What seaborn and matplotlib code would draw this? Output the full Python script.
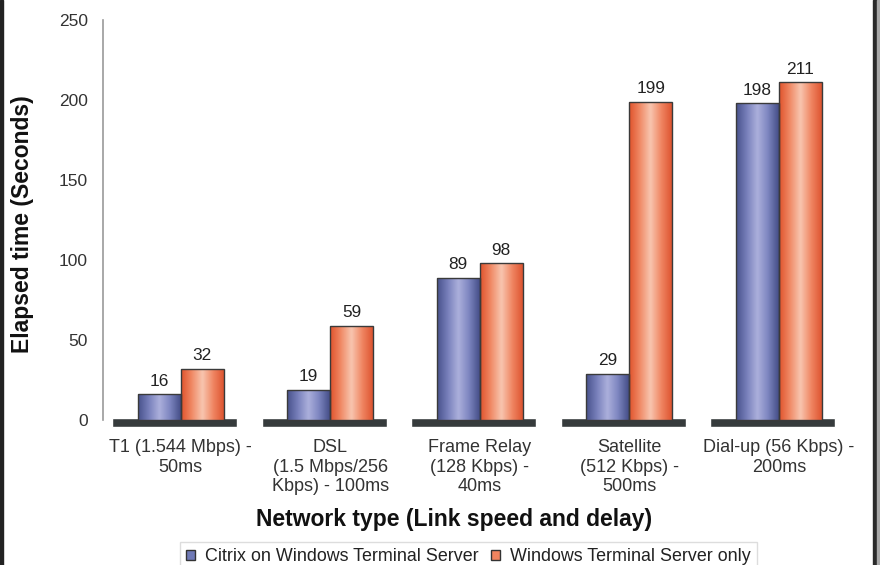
import numpy as np
import pandas as pd
import matplotlib
matplotlib.use("Agg")
import matplotlib.pyplot as plt
import seaborn as sns
from matplotlib.patches import Patch, Rectangle
from matplotlib.colors import LinearSegmentedColormap

# ---- data ----
categories = [
    "T1 (1.544 Mbps) -\n50ms",
    "DSL\n(1.5 Mbps/256\nKbps) - 100ms",
    "Frame Relay\n(128 Kbps) -\n40ms",
    "Satellite\n(512 Kbps) -\n500ms",
    "Dial-up (56 Kbps) -\n200ms",
]
series_names = ["Citrix on Windows Terminal Server", "Windows Terminal Server only"]
citrix_values = [16, 19, 89, 29, 198]
wts_values = [32, 59, 98, 199, 211]
y_ticks = [0, 50, 100, 150, 200, 250]
y_label = "Elapsed time (Seconds)"
x_label = "Network type (Link speed and delay)"

df = pd.DataFrame({
    "Network": categories * 2,
    "Series": [series_names[0]] * len(categories) + [series_names[1]] * len(categories),
    "Time": citrix_values + wts_values,
})

sns.set_theme(style="white")
plt.rcParams["font.family"] = ["Liberation Sans", "DejaVu Sans"]

W, H = 880, 565
fig = plt.figure(figsize=(W / 100, H / 100), dpi=100)
ax_left = 103 / W
ax_bottom = (H - 428) / H
ax_w = 758 / W
ax_h = 408 / H
ax = fig.add_axes([ax_left, ax_bottom, ax_w, ax_h])

mid_colors = ["#6f79b6", "#f0845f"]
sns.barplot(data=df, x="Network", y="Time", hue="Series", hue_order=series_names,
            order=categories, palette=mid_colors, width=0.575, ax=ax, legend=False,
            edgecolor="#3a3a3a", linewidth=1.0, zorder=3)

bar_patches = [p for p in ax.patches]

cmaps = [
    LinearSegmentedColormap.from_list("blu", ["#48528c", "#7880bb", "#acb0dc", "#7d85c0", "#454f88"]),
    LinearSegmentedColormap.from_list("org", ["#e0532c", "#f08a66", "#f8c6b0", "#f08764", "#de5531"]),
]
grad = np.linspace(0, 1, 64).reshape(1, -1)
n = len(categories)
for i, p in enumerate(bar_patches):
    cm = cmaps[0] if i < n else cmaps[1]
    x0, y0 = p.get_x(), p.get_y()
    w, h = p.get_width(), p.get_height()
    im = ax.imshow(grad, extent=[x0, x0 + w, y0, y0 + h], aspect="auto", cmap=cm,
                   zorder=2.5, interpolation="bicubic")
    im.set_clip_path(p)
    p.set_facecolor("none")

# floor plates under each group
xpos = np.arange(n)
ax.bar(xpos - 0.04, 5.6, bottom=-4.4, width=0.836, color="#363b3c", zorder=1.5)

# value labels
for container in ax.containers[:2]:
    ax.bar_label(container, padding=4, fontsize=12.4, color="#222222")

ax.set_xlim(-0.52, 4.55)
ax.set_ylim(-5, 250)
ax.set_yticks(y_ticks)
ax.set_yticklabels([str(t) for t in y_ticks])

for s in ["top", "right", "bottom"]:
    ax.spines[s].set_visible(False)
ax.spines["left"].set_color("#9a9a9a")
ax.spines["left"].set_linewidth(1.2)
ax.spines["left"].set_bounds(0, 250)

ax.tick_params(axis="y", length=5, color="#b0b0b0", width=1, pad=6,
               labelsize=12.5, labelcolor="#333333")
ax.tick_params(axis="x", length=0, pad=8, labelsize=13, labelcolor="#333333")
for lab in ax.get_xticklabels():
    lab.set_linespacing(1.2)

ax.set_ylabel(y_label, fontsize=16.5, fontweight="bold", color="#111111")
ax.yaxis.set_label_coords(-0.091, 0.5)
ax.set_xlabel(x_label, fontsize=16.5, fontweight="bold", color="#111111")
ax.xaxis.set_label_coords(0.463, -0.196)

handles = [Patch(facecolor=c, edgecolor="#333333", linewidth=1) for c in mid_colors]
leg = fig.legend(handles, series_names, loc="upper center",
                 bbox_to_anchor=(468.5 / W, (H - 542) / H),
                 ncol=2, frameon=True, fancybox=False, fontsize=12.9, handlelength=0.5,
                 handleheight=0.5, handletextpad=0.6, columnspacing=0.65,
                 borderpad=0.35, borderaxespad=0, labelcolor="#222222")
leg.get_frame().set_edgecolor("#d5d5d5")
leg.get_frame().set_linewidth(1)

# figure border strips
fig.add_artist(Rectangle((0, 0), 3 / W, 1, transform=fig.transFigure, color="#222222", zorder=10))
fig.add_artist(Rectangle((873 / W, 0), 4 / W, 1, transform=fig.transFigure, color="#2a2a2a", zorder=10))
fig.add_artist(Rectangle((877 / W, 0), 3 / W, 1, transform=fig.transFigure, color="#a8a8a8", zorder=10))

fig.savefig("out.png", dpi=100)
